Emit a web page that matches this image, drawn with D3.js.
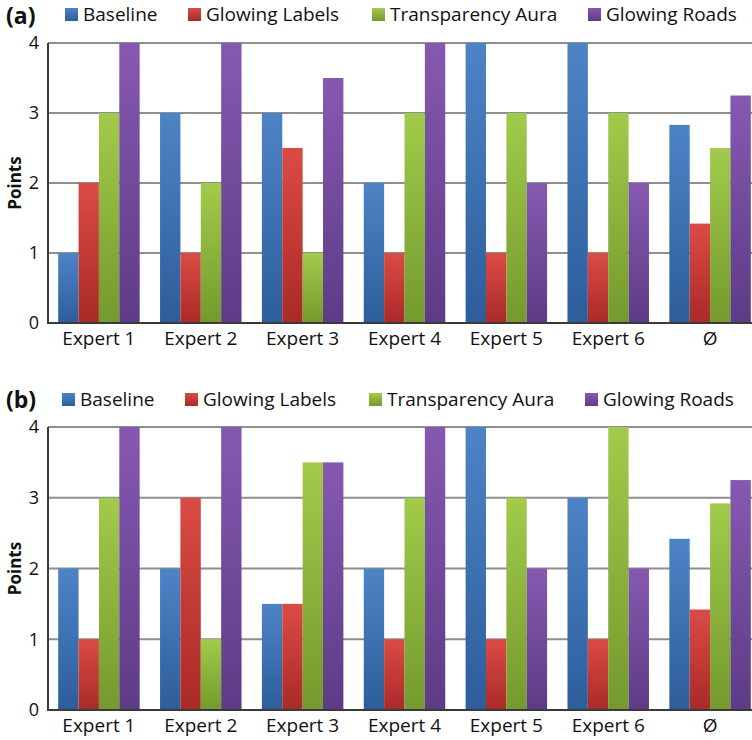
<!DOCTYPE html>
<html>
<head>
<meta charset="utf-8">
<script src="https://cdn.jsdelivr.net/npm/d3@7"></script>
<style>
  body { margin: 0; background: #fff; }
  svg { display: block; font-family: "Open Sans", "Noto Sans", sans-serif; }
</style>
</head>
<body>
<div id="chart"></div>
<script>
// Categories and series
const categories = ["Expert 1", "Expert 2", "Expert 3", "Expert 4", "Expert 5", "Expert 6", "Ø"];
const seriesNames = ["Baseline", "Glowing Labels", "Transparency Aura", "Glowing Roads"];
const yTicks = [0, 1, 2, 3, 4];

// Panel (a) values
const baselineA = [1, 3, 3, 2, 4, 4, 2.83];
const labelsA   = [2, 1, 2.5, 1, 1, 1, 1.42];
const auraA     = [3, 2, 1, 3, 3, 3, 2.5];
const roadsA    = [4, 4, 3.5, 4, 2, 2, 3.25];

// Panel (b) values
const baselineB = [2, 2, 1.5, 2, 4, 3, 2.42];
const labelsB   = [1, 3, 1.5, 1, 1, 1, 1.42];
const auraB     = [3, 1, 3.5, 3, 3, 4, 2.92];
const roadsB    = [4, 4, 3.5, 4, 2, 2, 3.25];

// gradient colours (top, bottom) per series
const gradColors = [
  ["#4d84c6", "#2d5d9b"],
  ["#db4b45", "#a92a27"],
  ["#a2cb4b", "#74992d"],
  ["#8659b0", "#5d3b86"]
];

const width = 752, height = 740;
const svg = d3.select("#chart").append("svg")
  .attr("width", width)
  .attr("height", height);

const defs = svg.append("defs");
gradColors.forEach((c, i) => {
  const g = defs.append("linearGradient")
    .attr("id", "grad" + i)
    .attr("x1", 0).attr("y1", 0).attr("x2", 0).attr("y2", 1);
  g.append("stop").attr("offset", "0%").attr("stop-color", c[0]);
  g.append("stop").attr("offset", "100%").attr("stop-color", c[1]);
});

function drawPanel(tag, series, top, bottom, legendY, tagY) {
  const rows = categories.map((c, i) => ({
    cat: c,
    values: series.map((s, k) => ({ key: k, value: s[i] }))
  }));

  const x = d3.scaleBand()
    .domain(categories)
    .range([48, 761])
    .paddingInner(0.2)
    .paddingOuter(0.1);

  const xSub = d3.scaleBand()
    .domain(d3.range(seriesNames.length))
    .range([0, x.bandwidth()]);

  const y = d3.scaleLinear()
    .domain([0, 4])
    .range([bottom, top]);

  const g = svg.append("g");

  // gridlines
  g.selectAll("line.grid")
    .data(yTicks.filter(t => t > 0))
    .enter().append("line")
    .attr("class", "grid")
    .attr("x1", 48).attr("x2", width)
    .attr("y1", d => y(d)).attr("y2", d => y(d))
    .attr("stroke", "#8e8e8e")
    .attr("stroke-width", 2);

  // bars
  const groups = g.selectAll("g.grp")
    .data(rows)
    .enter().append("g")
    .attr("class", "grp")
    .attr("transform", d => `translate(${x(d.cat)},0)`);

  groups.selectAll("rect")
    .data(d => d.values)
    .enter().append("rect")
    .attr("x", d => xSub(d.key))
    .attr("y", d => y(d.value))
    .attr("width", xSub.bandwidth())
    .attr("height", d => y(0) - y(d.value))
    .attr("fill", d => `url(#grad${d.key})`);

  // axes lines
  g.append("line")
    .attr("x1", 48).attr("x2", 48)
    .attr("y1", y(4)).attr("y2", y(0) + 1)
    .attr("stroke", "#3a3a3a").attr("stroke-width", 2);
  g.append("line")
    .attr("x1", 47).attr("x2", width)
    .attr("y1", y(0)).attr("y2", y(0))
    .attr("stroke", "#3a3a3a").attr("stroke-width", 2);

  // y tick labels
  g.selectAll("text.ytick")
    .data(yTicks)
    .enter().append("text")
    .attr("class", "ytick")
    .attr("x", 39)
    .attr("y", d => y(d))
    .attr("dy", "0.35em")
    .attr("text-anchor", "end")
    .style("font-size", "18px")
    .attr("fill", "#111")
    .text(d => d);

  // x labels
  g.selectAll("text.xlab")
    .data(categories)
    .enter().append("text")
    .attr("class", "xlab")
    .attr("x", d => x(d) + x.bandwidth() / 2)
    .attr("y", y(0) + 22)
    .attr("text-anchor", "middle")
    .style("font-size", "19px")
    .attr("fill", "#111")
    .text(d => d);

  // y axis title
  g.append("text")
    .attr("transform", `translate(21,${(y(0) + y(4)) / 2}) rotate(-90)`)
    .attr("text-anchor", "middle")
    .style("font-size", "17px")
    .style("font-weight", "bold")
    .attr("fill", "#111")
    .text("Points");

  // panel tag
  g.append("text")
    .attr("x", 6)
    .attr("y", tagY)
    .style("font-size", "23px")
    .style("font-weight", "bold")
    .attr("fill", "#111")
    .text(tag);

  // legend
  const legendX = [65, 188, 372, 588];
  const leg = g.selectAll("g.leg")
    .data(seriesNames)
    .enter().append("g")
    .attr("class", "leg")
    .attr("transform", (d, i) => `translate(${legendX[i] - (tag === "(b)" ? 3 : 0)},${legendY})`);
  leg.append("rect")
    .attr("x", 0).attr("y", -6)
    .attr("width", 13).attr("height", 13)
    .attr("fill", (d, i) => `url(#grad${i})`);
  leg.append("text")
    .attr("x", 18)
    .attr("y", 0)
    .attr("dy", "0.35em")
    .style("font-size", "19px")
    .attr("fill", "#111")
    .text(d => d);
}

drawPanel("(a)", [baselineA, labelsA, auraA, roadsA], 43, 323, 14, 24);
drawPanel("(b)", [baselineB, labelsB, auraB, roadsB], 427, 710, 399, 408);
</script>
</body>
</html>
